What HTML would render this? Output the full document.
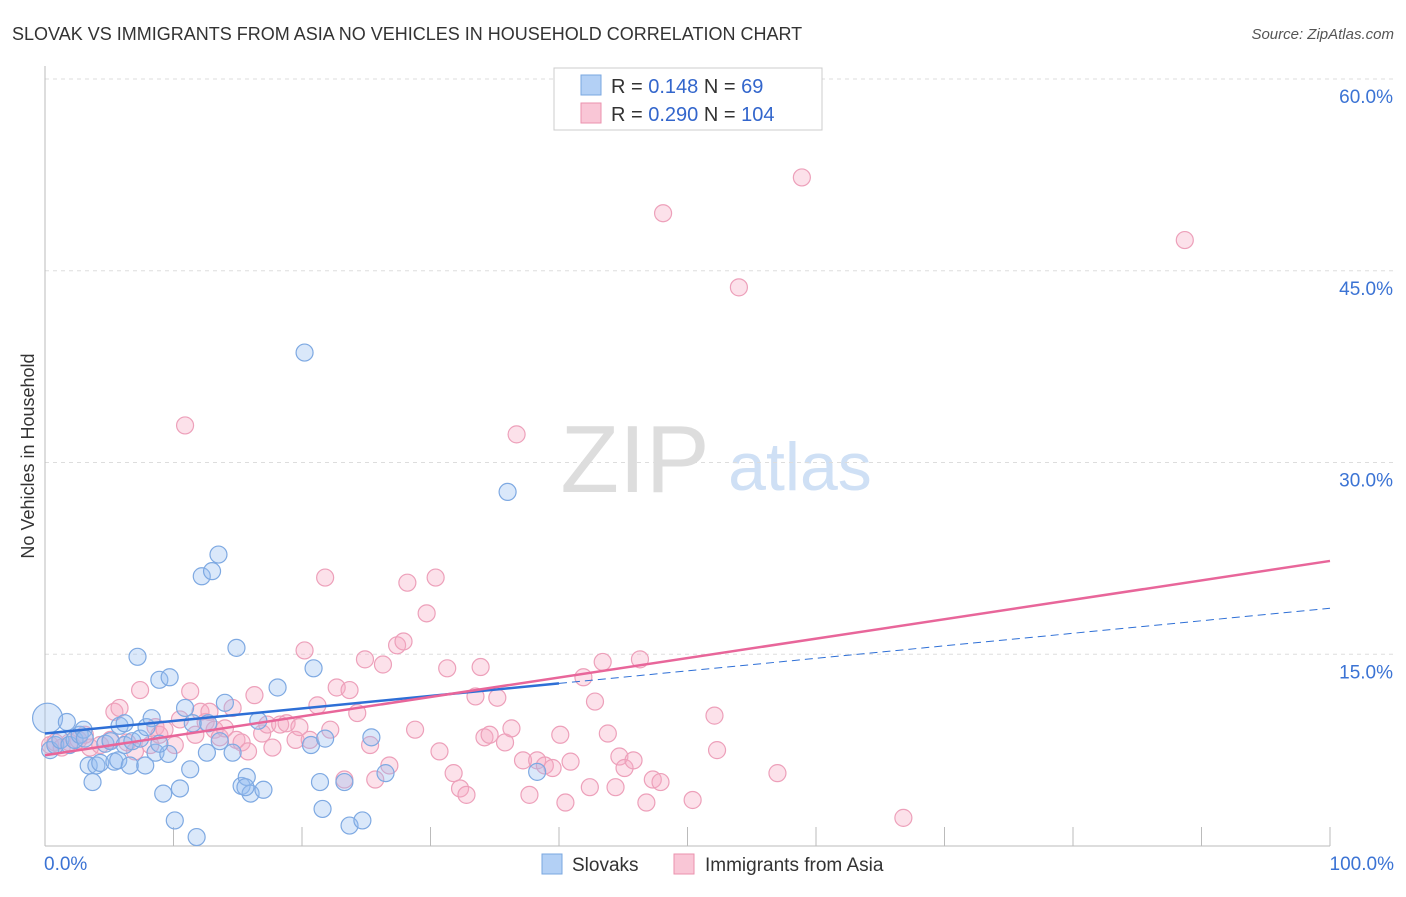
<!DOCTYPE html>
<html><head><meta charset="utf-8">
<style>
body{margin:0;background:#fff;font-family:"Liberation Sans",sans-serif;}
svg text{font-family:"Liberation Sans",sans-serif;}
</style></head>
<body>
<svg id="chart" width="1406" height="892" xmlns="http://www.w3.org/2000/svg">
<text x="12" y="40" font-size="18" fill="#333">SLOVAK VS IMMIGRANTS FROM ASIA NO VEHICLES IN HOUSEHOLD CORRELATION CHART</text>
<text x="1394" y="39" font-size="15" fill="#555" text-anchor="end" font-style="italic">Source: ZipAtlas.com</text>
<text x="34" y="456" font-size="18" fill="#333" text-anchor="middle" transform="rotate(-90 34 456)">No Vehicles in Household</text>
<text x="635" y="492" font-size="96" fill="#ddd" font-family="Liberation Serif" text-anchor="middle">ZIP</text>
<text x="800" y="490" font-size="68" fill="#cfe0f5" text-anchor="middle">atlas</text>
<g id="grid"></g><g id="axes"></g><g id="pts"></g><g id="lines"></g>
<g>
<rect x="554" y="68" width="268" height="62" fill="#fff" stroke="#ccc"/>
<rect x="581" y="75" width="20" height="20" fill="#b3d0f5" stroke="#7aa7e0"/>
<rect x="581" y="103" width="20" height="20" fill="#f9c6d6" stroke="#eb92ae"/>
<text x="611" y="93" font-size="20" fill="#333">R = <tspan fill="#3366cc">0.148</tspan>   N = <tspan fill="#3366cc"> 69</tspan></text>
<text x="611" y="121" font-size="20" fill="#333">R = <tspan fill="#3366cc">0.290</tspan>   N = <tspan fill="#3366cc">104</tspan></text>
</g>
<g>
<rect x="542" y="854" width="20" height="20" fill="#b3d0f5" stroke="#7aa7e0"/>
<text x="572" y="871" font-size="19" fill="#333">Slovaks</text>
<rect x="674" y="854" width="20" height="20" fill="#f9c6d6" stroke="#eb92ae"/>
<text x="705" y="871" font-size="19" fill="#333">Immigrants from Asia</text>
</g>
</svg>
<script>
const yTicks=[15,30,45,60];
const yTickLabels=["15.0%","30.0%","45.0%","60.0%"];
const xTickLabels=["0.0%","100.0%"];
const blueX=[0.2,0.4,0.8,1.2,1.7,1.9,2.3,2.7,3.0,3.4,3.7,4.0,4.3,4.7,5.1,5.4,5.7,5.8,6.2,6.6,6.8,7.2,7.4,7.8,7.9,8.3,8.6,8.9,9.2,9.6,9.7,10.1,10.5,10.9,11.3,11.5,11.8,12.2,12.6,12.7,13.0,13.5,13.6,14.0,14.6,14.9,15.3,15.7,16.0,16.6,17.0,18.1,20.2,20.7,20.9,21.4,21.6,21.8,23.3,23.7,24.7,25.4,26.5,36.0,38.3,15.6,6.2,8.9,3.1];
const blueY=[10.0,7.5,7.9,8.3,9.7,7.9,8.3,8.7,9.1,6.3,5.0,6.3,6.5,8.0,8.2,6.6,6.7,9.4,7.9,6.3,8.2,14.8,8.4,6.3,9.3,10.0,7.3,13.0,4.1,7.2,13.2,2.0,4.5,10.8,6.0,9.6,0.7,21.1,7.3,9.6,21.5,22.8,8.2,11.2,7.3,15.5,4.7,5.4,4.1,9.8,4.4,12.4,38.6,7.9,13.9,5.0,2.9,8.4,5.0,1.6,2.0,8.5,5.7,27.7,5.8,4.6,9.6,8.0,8.4];
const pinkX=[0.4,0.8,1.3,1.9,2.6,3.1,3.5,4.3,5.1,5.4,5.8,6.4,7.0,7.4,8.2,8.6,8.9,9.3,10.1,10.5,10.9,11.3,11.7,12.1,12.5,12.8,13.2,13.6,14.0,14.6,14.9,15.3,15.8,16.3,16.9,17.3,17.7,18.3,18.8,19.5,19.8,20.2,20.6,21.2,21.8,22.2,22.7,23.3,23.7,24.3,24.9,25.3,25.7,26.3,26.8,27.4,27.9,28.2,28.8,29.7,30.4,30.7,31.3,31.8,32.3,32.8,33.5,33.9,34.2,34.6,35.2,35.8,36.3,36.7,37.2,37.7,38.3,38.9,39.5,40.1,40.5,40.9,41.9,42.4,42.8,43.4,43.8,44.4,44.7,45.1,45.8,46.3,46.8,47.3,47.9,48.1,50.4,52.1,52.3,54.0,57.0,58.9,66.8,88.7];
const pinkY=[7.9,8.1,7.7,8.1,8.3,8.7,7.7,7.9,8.3,10.5,10.8,8.1,7.4,12.2,7.9,9.3,8.7,9.1,7.9,9.9,32.9,12.1,8.7,10.5,9.7,10.5,9.1,8.5,9.2,10.8,8.3,8.1,7.4,11.8,8.8,9.5,7.7,9.5,9.6,8.3,9.3,15.3,8.3,11.0,21.0,9.1,12.4,5.2,12.2,10.4,14.6,7.9,5.2,14.2,6.3,15.7,16.0,20.6,9.1,18.2,21.0,7.4,13.9,5.7,4.5,4.0,11.7,14.0,8.5,8.7,11.6,8.1,9.2,32.2,6.7,4.0,6.7,6.3,6.1,8.7,3.4,6.6,13.2,4.6,11.3,14.4,8.8,4.6,7.0,6.1,6.7,14.6,3.4,5.2,5.0,49.5,3.6,10.2,7.5,43.7,5.7,52.3,2.2,47.4];
const trendIntercept=[8.8,7.1];
const trendSlope=[0.098,0.152];
const trendSolidEnd=[40,100];
const L=45,R=1330,T=79,B=846;
const xs=v=>L+(R-L)*v/100;
const ys=v=>B-(B-T)*v/60;
const NS="http://www.w3.org/2000/svg";
function mk(tag,attrs,parent){const e=document.createElementNS(NS,tag);for(const k in attrs)e.setAttribute(k,attrs[k]);parent.appendChild(e);return e;}
const grid=document.getElementById('grid'),axes=document.getElementById('axes'),pts=document.getElementById('pts'),lines=document.getElementById('lines');
yTicks.forEach((t,i)=>{
 const g=mk('line',{x1:L,x2:1394,y1:ys(t),y2:ys(t),stroke:'#ddd','stroke-dasharray':'4,4'},grid);
 
 
 const tx=mk('text',{x:1393,y:ys(t)+24,'font-size':19,fill:'#3b73d4','text-anchor':'end'},grid);
 tx.textContent=yTickLabels[i];
 
 
});
const ax=mk('line',{x1:L,x2:R,y1:B,y2:B,stroke:'#bbb'},axes);


const ay=mk('line',{x1:L,x2:L,y1:66,y2:B,stroke:'#bbb'},axes);


for(let i=1;i<=10;i++){const tk=mk('line',{x1:xs(i*10),x2:xs(i*10),y1:827,y2:B,stroke:'#bbb'},axes);
 
 }
[[0,'start',44],[100,'end',1394]].forEach((p,i)=>{const t=mk('text',{x:p[2],y:870,'font-size':19,fill:'#3b73d4','text-anchor':p[1]},axes);t.textContent=xTickLabels[i];
 
 });
pinkX.forEach((x,i)=>{const c=mk('circle',{cx:xs(x),cy:ys(pinkY[i]),r:8.5,fill:'rgba(246,170,195,0.35)',stroke:'#eda0ba','stroke-width':1.2},pts);
 
 });
blueX.forEach((x,i)=>{const c=mk('circle',{cx:xs(x),cy:ys(blueY[i]),r:i===0?15:8.5,fill:'rgba(150,190,240,0.35)',stroke:'#7ea9e2','stroke-width':1.2},pts);
 
 });
const cols=['#2e6fd6','#e8669a'];
[0,1].forEach(k=>{
 const f=x=>trendIntercept[k]+trendSlope[k]*x;
 const s=mk('line',{x1:xs(0),y1:ys(f(0)),x2:xs(trendSolidEnd[k]),y2:ys(f(trendSolidEnd[k])),stroke:cols[k],'stroke-width':2.5},lines);
 
 
 if(trendSolidEnd[k]<100){const d=mk('line',{x1:xs(trendSolidEnd[k]),y1:ys(f(trendSolidEnd[k])),x2:xs(100),y2:ys(f(100)),stroke:cols[k],'stroke-width':1,'stroke-dasharray':'8,5'},lines);
 
 }
});
</script>
</body></html>
